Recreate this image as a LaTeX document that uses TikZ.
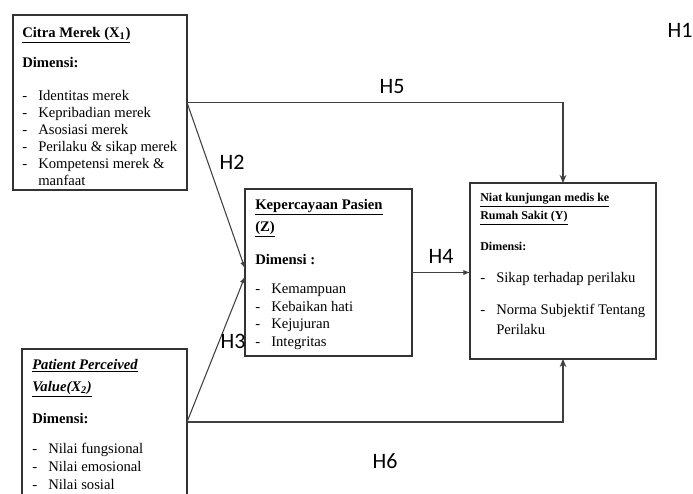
\documentclass[tikz,border=0pt]{standalone}
\usepackage{fontspec}
\setmainfont{Liberation Serif}
\newfontfamily\hfont{Carlito}
\usetikzlibrary{arrows.meta}

% dash item inside a box
\newcommand{\dimitem}[1]{\makebox[12pt][l]{-}#1}

\begin{document}
\begin{tikzpicture}[x=0.75pt,y=-0.75pt,
  konstruk/.style={draw=black!80,line width=0.9pt,inner sep=0,outer sep=0,anchor=north west},
  isi/.style={inner sep=0,anchor=north west,align=left,font=\fontsize{11}{12.75}\selectfont},
  jalur/.style={draw=black!75,line width=0.8pt},
  hipo/.style={font=\hfont\fontsize{16.5}{18}\selectfont}]
\useasboundingbox (0,0) rectangle (693,493);
\clip (0,0) rectangle (693,493);

% boxes
\node[konstruk,minimum width=130.5pt,minimum height=131.25pt] (cm) at (13,15) {};
\node[konstruk,minimum width=123.75pt,minimum height=109.5pt] (ppv) at (22,349) {};
\node[konstruk,minimum width=125.25pt,minimum height=125.25pt] (kp) at (245,189) {};
\node[konstruk,minimum width=139.5pt,minimum height=132pt] (niat) at (470,183) {};

% box texts
\node[isi] (cmText) at (22,27) {\textbf{\underline{Citra Merek (X\textsubscript{1})}}\\[9.75pt]
  \textbf{Dimensi:}\\[12pt]
  \dimitem{Identitas merek}\\
  \dimitem{Kepribadian merek}\\
  \dimitem{Asosiasi merek}\\
  \dimitem{Perilaku \& sikap merek}\\
  \dimitem{Kompetensi merek \&}\\
  \hspace*{12pt}manfaat};
\node[isi] (ppvText) at (32,359) {\textbf{\textit{\underline{Patient Perceived}}}\\[3.75pt]
  \textbf{\textit{\underline{Value(X\textsubscript{2})}}}\\[11.25pt]
  \textbf{Dimensi:}\\[9.75pt]
  \dimitem{Nilai fungsional}\\[0.75pt]
  \dimitem{Nilai emosional}\\[0.75pt]
  \dimitem{Nilai sosial}};
\node[isi] (kpText) at (255,199) {\textbf{\underline{Kepercayaan Pasien}}\\[3.75pt]
  \textbf{\underline{(Z)}}\\[12pt]
  \textbf{Dimensi :}\\[9pt]
  \dimitem{Kemampuan}\\[0.5pt]
  \dimitem{Kebaikan hati}\\[0.5pt]
  \dimitem{Kejujuran}\\[0.5pt]
  \dimitem{Integritas}};
\node[isi,font=\fontsize{9}{13.5}\selectfont] (niatJudul) at (480,193) {\textbf{\underline{Niat kunjungan medis ke}}\\
  \textbf{\underline{Rumah Sakit (Y)}}\\[9.75pt]
  \textbf{Dimensi:}};
\node[isi,font=\fontsize{11}{15}\selectfont] (niatIsi) at (480,272) {\dimitem{Sikap terhadap perilaku}\\[9pt]
  \dimitem{Norma Subjektif Tentang}\\
  \hspace*{12pt}Perilaku};

% paths
\draw[jalur,-{Stealth[length=6pt,width=5pt]}] (cm.east) -| (niat.north);
\draw[jalur,-{Latex[length=5pt,width=4pt]}] (cm.east) -- ([yshift=3pt]kp.west);
\draw[jalur,-{Latex[length=5pt,width=4pt]}] (ppv.east) -- ([yshift=-3pt]kp.west);
\draw[jalur,-{Latex[length=5pt,width=4pt]}] (kp.east) -- (kp.east -| niat.west);
\draw[jalur,-{Stealth[length=6pt,width=5pt]}] (ppv.east) -| (niat.south);

% hypothesis labels
\node[hipo] (h1) at (680,30) {H1};
\node[hipo] (h2) at (232,162) {H2};
\node[hipo] (h3) at (233,341) {H3};
\node[hipo] (h4) at (441,256) {H4};
\node[hipo] (h5) at (392,87) {H5};
\node[hipo] (h6) at (385,461) {H6};
\end{tikzpicture}
\end{document}
